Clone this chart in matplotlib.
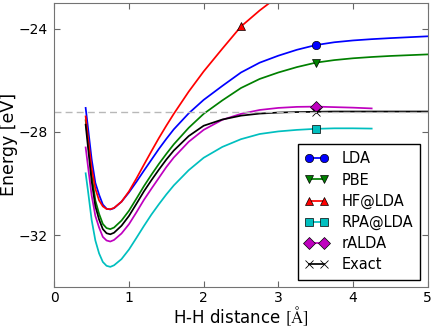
import matplotlib
matplotlib.use('Agg')
import matplotlib.pyplot as plt

# H-H distance grid in Angstrom and total energies in eV
dist = [0.42, 0.45, 0.5, 0.55, 0.6, 0.65, 0.7, 0.75, 0.8, 0.9, 1.0, 1.1, 1.2,
        1.3, 1.4, 1.5, 1.6, 1.8, 2.0, 2.25, 2.5, 2.75, 3.0, 3.25, 3.5, 3.75,
        4.0, 4.25, 4.5, 5.0]

exact = [-27.72, -28.55, -29.90, -30.87, -31.39, -31.76, -31.92, -31.96, -31.90,
         -31.63, -31.25, -30.78, -30.30, -29.87, -29.46, -29.07, -28.72, -28.16,
         -27.76, -27.52, -27.37, -27.29, -27.25, -27.23, -27.22, -27.21, -27.21,
         -27.21, -27.21, -27.21]
lda = [-27.07, -27.80, -29.05, -29.97, -30.43, -30.81, -30.97, -31.00, -30.95,
       -30.70, -30.34, -29.93, -29.50, -29.08, -28.66, -28.27, -27.90, -27.28,
       -26.76, -26.22, -25.70, -25.32, -25.05, -24.82, -24.64, -24.53, -24.46,
       -24.41, -24.37, -24.30]
pbe = [-27.55, -28.30, -29.65, -30.65, -31.17, -31.56, -31.72, -31.76, -31.70,
       -31.43, -31.05, -30.58, -30.10, -29.66, -29.24, -28.85, -28.48, -27.84,
       -27.30, -26.78, -26.30, -25.95, -25.70, -25.49, -25.32, -25.22, -25.15,
       -25.10, -25.06, -25.00]
hf = [-27.40, -28.20, -29.40, -30.20, -30.65, -30.88, -30.98, -30.99, -30.94,
      -30.70, -30.30, -29.80, -29.27, -28.75, -28.24, -27.76, -27.30, -26.44,
      -25.66, -24.78, -23.92, -23.30, -22.75]
rpa = [-29.60, -30.25, -31.40, -32.20, -32.70, -33.03, -33.18, -33.22, -33.16,
       -32.92, -32.55, -32.10, -31.64, -31.20, -30.80, -30.42, -30.07, -29.48,
       -29.00, -28.58, -28.28, -28.08, -27.98, -27.92, -27.88, -27.86, -27.86,
       -27.87]
ralda = [-28.60, -29.30, -30.45, -31.25, -31.70, -32.06, -32.20, -32.24, -32.18,
         -31.93, -31.57, -31.11, -30.63, -30.20, -29.78, -29.36, -28.99, -28.38,
         -27.92, -27.53, -27.30, -27.15, -27.07, -27.03, -27.02, -27.04, -27.06,
         -27.09]
e_dissoc = -27.21  # two isolated H atoms

plt.rcParams['mathtext.fontset'] = 'stix'
plt.rcParams['xtick.direction'] = 'in'
plt.rcParams['ytick.direction'] = 'in'
plt.rcParams['xtick.top'] = True
plt.rcParams['ytick.right'] = True

fig = plt.figure(figsize=(4.36, 3.27), dpi=100)
ax = fig.add_axes([0.1245, 0.1223, 0.8564, 0.8694])

mk = dict(markersize=6, markeredgecolor='k', markeredgewidth=0.5, linewidth=1.25)
i35 = [dist.index(3.5)]
ax.plot(dist, lda, 'b-o', markevery=i35, label='LDA', **mk)
ax.plot(dist, pbe, 'g-v', markevery=i35, label='PBE', **mk)
ax.plot(dist[:len(hf)], hf, 'r-^', markevery=[dist.index(2.5)], label='HF@LDA', **mk)
ax.plot(dist[:len(rpa)], rpa, 'c-s', markevery=i35, label='RPA@LDA', **mk)
ax.plot(dist[:len(ralda)], ralda, 'm-D', markevery=i35, label='rALDA', **mk)
ax.plot(dist, exact, 'k-x', markevery=i35, label='Exact', markersize=6,
        markeredgewidth=0.6, linewidth=1.25)
ax.axhline(e_dissoc, color='0.72', linestyle='--', dashes=(5, 3), linewidth=1.0)

ax.set_xlim(0, 5)
ax.set_ylim(-34, -23)
ax.set_yticks([-32, -28, -24])
ax.tick_params(labelsize=10, length=4, color='0.4')
ax.tick_params(axis='x', pad=3)
ax.tick_params(axis='y', pad=5)
for s in ax.spines.values():
    s.set_color('0.45')
ax.set_xlabel('H-H distance $[\\mathrm{Å}]$', fontsize=12, labelpad=-0.5)
ax.set_ylabel('Energy [eV]', fontsize=12.5, labelpad=0)

leg = ax.legend(loc='lower right', numpoints=2, fontsize=10.5, handlelength=1.6,
                handletextpad=0.9, labelspacing=0.42, borderpad=0.5,
                fancybox=False, framealpha=1)
leg.get_frame().set_edgecolor('k')

fig.savefig('out.png', dpi=100)
